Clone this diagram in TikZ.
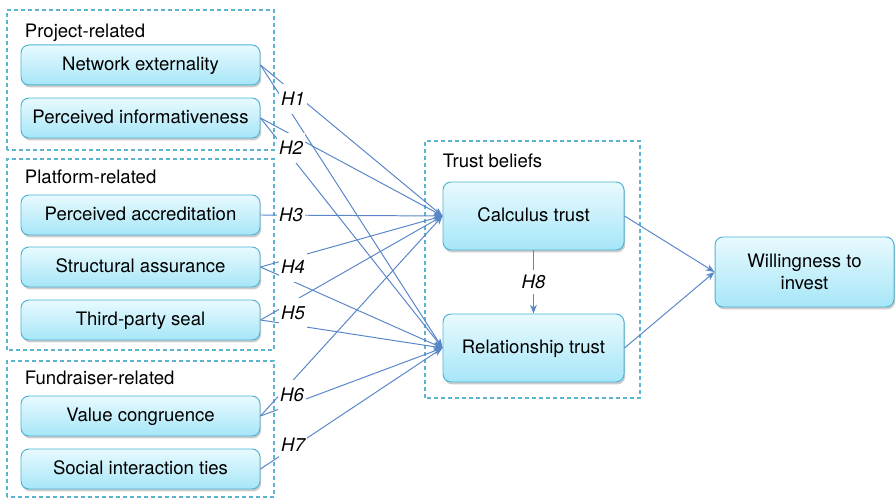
\documentclass[tikz,border=0pt]{standalone}
\usepackage{fontspec}
\setmainfont{TeX Gyre Heros}
\usetikzlibrary{arrows.meta,shadows}

\definecolor{linkblue}{RGB}{88,134,200}
\definecolor{boxline}{RGB}{76,180,214}
\definecolor{boxtop}{RGB}{232,250,254}
\definecolor{boxbot}{RGB}{166,230,248}
\definecolor{groupline}{RGB}{90,180,210}

\begin{document}
\begin{tikzpicture}[
		font=\fontsize{13.2}{15.5}\selectfont,
		factor/.style={rectangle, rounded corners=0.2cm, draw=boxline, line width=0.7pt,
			top color=boxtop, bottom color=boxbot, minimum width=5.975cm, minimum height=1cm,
			text height=0.72em, text depth=0pt,
			drop shadow={shadow xshift=0.03cm, shadow yshift=-0.06cm, fill=black, opacity=0.2}},
		trust/.style={factor, minimum width=4.525cm, minimum height=1.7cm},
		group/.style={draw=groupline, line width=1pt, dash pattern=on 0.1cm off 0.075cm},
		title/.style={anchor=west, text height=0.72em, text depth=0pt},
		link/.style={draw=linkblue, line width=0.7pt, -{Stealth[length=0.22cm, width=0.17cm]}},
		hyp/.style={fill=white, inner sep=0pt, minimum width=0.7cm, minimum height=0.75cm, font=\fontsize{13.2}{15.5}\selectfont\itshape}
	]
		\useasboundingbox (0,0) rectangle (22.375,12.475);

		% group frames
		\draw [group] (0.175,8.725) rectangle (6.85,12.225);
		\draw [group] (0.175,3.725) rectangle (6.85,8.5);
		\draw [group] (0.175,0.05) rectangle (6.85,3.45);
		\draw [group] (10.625,2.525) rectangle (16.0,8.95);

		\node [title] (projtitle) at (0.5,11.675) {Project-related};
		\node [title] (plattitle) at (0.5,8.025) {Platform-related};
		\node [title] (fundtitle) at (0.5,3.0) {Fundraiser-related};
		\node [title] (trusttitle) at (10.95,8.425) {Trust beliefs};

		% constructs
		\node [factor] (ne) at (3.5125,10.85) {Network externality};
		\node [factor] (pi) at (3.5125,9.525) {Perceived informativeness};
		\node [factor] (pa) at (3.5125,7.1) {Perceived accreditation};
		\node [factor] (sa) at (3.5125,5.8) {Structural assurance};
		\node [factor] (tps) at (3.5125,4.475) {Third-party seal};
		\node [factor] (vc) at (3.5125,2.075) {Value congruence};
		\node [factor] (sit) at (3.5125,0.75) {Social interaction ties};

		\node [trust] (calc) at (13.3375,7.075) {Calculus trust};
		\node [trust] (rel) at (13.3375,3.775) {Relationship trust};
		\node [trust, align=center, text height=, text depth=, minimum width=4.475cm, minimum height=1.75cm] (will) at (20.1125,5.675) {Willingness to\\invest};

		% paths
		\draw [link] (ne.east) -- (calc.west);
		\draw [link] (ne.east) -- (rel.west);
		\draw [link] (pi.east) -- (calc.west);
		\draw [link] (pi.east) -- (rel.west);
		\draw [link] (pa.east) -- (calc.west);
		\draw [link] (sa.east) -- (calc.west);
		\draw [link] (sa.east) -- (rel.west);
		\draw [link] (tps.east) -- (calc.west);
		\draw [link] (tps.east) -- (rel.west);
		\draw [link] (vc.east) -- (calc.west);
		\draw [link] (vc.east) -- (rel.west);
		\draw [link] (sit.east) -- (rel.west);
		\draw [link] (calc.south) -- (rel.north);
		\draw [link] (calc.east) -- (will.west);
		\draw [link] (rel.east) -- (will.west);

		% hypothesis labels
		\node [hyp] (h1) at (7.325,10.0) {H1};
		\node [hyp] (h2) at (7.275,8.775) {H2};
		\node [hyp] (h3) at (7.275,7.1) {H3};
		\node [hyp] (h4) at (7.325,5.8) {H4};
		\node [hyp] (h5) at (7.325,4.65) {H5};
		\node [hyp] (h6) at (7.3,2.6) {H6};
		\node [hyp] (h7) at (7.325,1.35) {H7};
		\node [hyp, minimum height=0.6cm] (h8) at (13.3375,5.425) {H8};

	\end{tikzpicture}
\end{document}
